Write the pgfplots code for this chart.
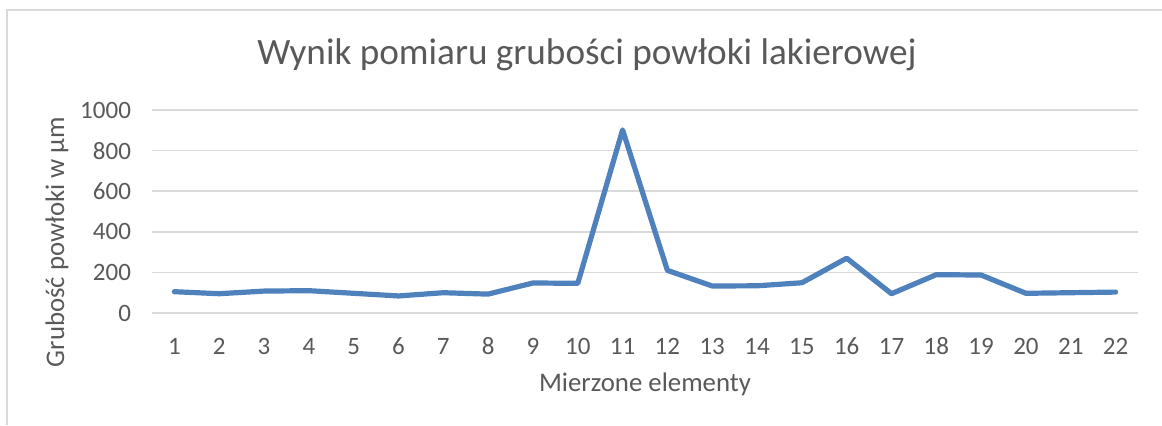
\documentclass[border=0pt]{standalone}
\usepackage{pgfplots}
\pgfplotsset{compat=1.18}
\usepackage{fontspec}
\setmainfont{Carlito}
\definecolor{txt}{HTML}{595959}
\definecolor{gridc}{HTML}{D9D9D9}
\definecolor{serie}{HTML}{4F81BD}
\begin{document}
\begin{tikzpicture}
\path[use as bounding box] (0,0) rectangle (581pt,212.5pt);
\draw[gridc, line width=0.9pt] (3.5pt,0) -- (3.5pt,207.5pt) -- (581pt,207.5pt);
\begin{axis}[
  at={(76pt,56pt)}, anchor=south west,
  scale only axis, width=493pt, height=101.5pt,
  xmin=0.5, xmax=22.5, ymin=0, ymax=1000,
  xtick={1,...,22}, ytick={0,200,...,1000},
  axis line style={draw=none},
  tick style={draw=none},
  ymajorgrids, grid style={gridc, line width=0.8pt},
  tick label style={font=\fontsize{12.5}{14}\selectfont, text=txt},
  /pgf/number format/assume math mode=true,
  /pgf/number format/1000 sep={},
  yticklabel style={xshift=-7pt},
  xticklabel style={yshift=-8pt, text height=9pt, text depth=0pt},
  clip=false,
]
\addplot[serie, line width=2.6pt, line join=round, line cap=round] coordinates {
(1,105) (2,95) (3,108) (4,110) (5,97) (6,84) (7,100) (8,93) (9,148) (10,146)
(11,902) (12,210) (13,133) (14,134) (15,149) (16,270) (17,95) (18,189) (19,187)
(20,97) (21,100) (22,103)};
\end{axis}
\node[text=txt, font=\fontsize{18.6}{22}\selectfont] at (293.5pt,185pt) {Wynik pomiaru grubości powłoki lakierowej};
\node[text=txt, font=\fontsize{13.4}{16}\selectfont, rotate=90] at (28.5pt,91.5pt) {Grubość powłoki w µm};
\node[text=txt, font=\fontsize{13.4}{16}\selectfont] at (322.5pt,20.5pt) {Mierzone elementy};
\end{tikzpicture}
\end{document}
